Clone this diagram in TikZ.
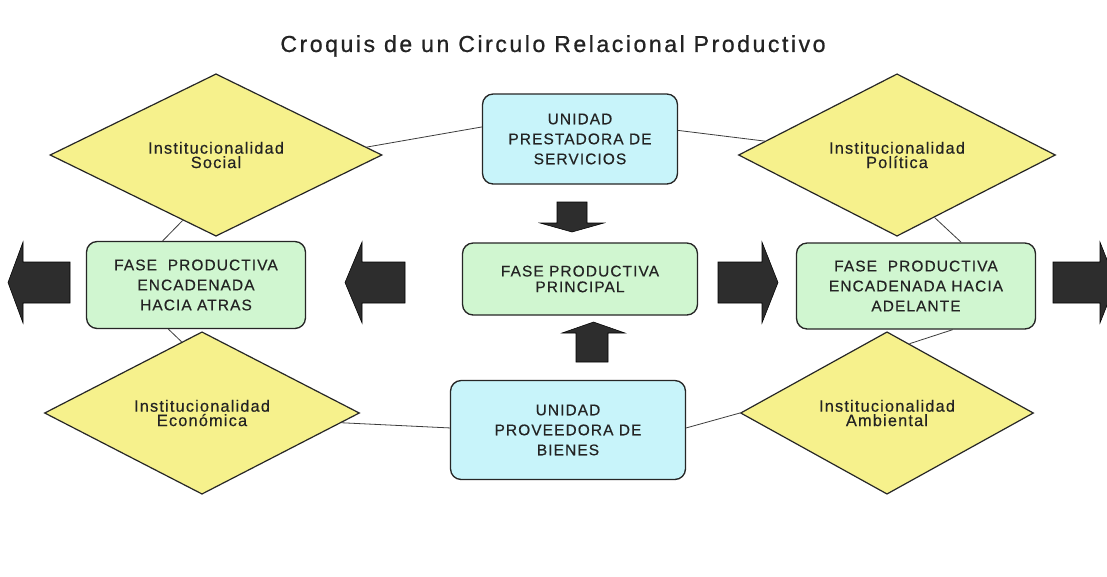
\documentclass[tikz,border=0pt]{standalone}
\usepackage{fontspec}
\setmainfont{Liberation Sans}
\newfontfamily\boxfont[LetterSpace=7,FakeBold=0.4]{Liberation Sans}
\newfontfamily\diafont[LetterSpace=7,FakeBold=0.4]{Liberation Sans}
\newfontfamily\titlefont[LetterSpace=11,FakeBold=0.8]{Liberation Sans}
\usetikzlibrary{shapes.geometric}
\definecolor{diayellow}{RGB}{246,241,140}
\definecolor{boxgreen}{RGB}{208,246,208}
\definecolor{boxcyan}{RGB}{200,244,250}
\definecolor{arrowdark}{RGB}{45,45,45}
\definecolor{linegray}{RGB}{60,60,60}
\definecolor{textdark}{RGB}{35,35,35}
\tikzset{
  diabox/.style={diamond, draw=black!85, line width=0.9pt, fill=diayellow, inner sep=0pt,
    align=center, text=textdark, font=\diafont\fontsize{12.3}{10.8}\selectfont},
  phasebox/.style={rectangle, rounded corners=8pt, draw=black!85, line width=1pt, fill=boxgreen,
    align=center, inner sep=0pt, text=textdark, font=\boxfont\fontsize{11.6}{15}\selectfont},
  unitbox/.style={phasebox, fill=boxcyan},
  ring/.style={draw=linegray, line width=0.6pt},
  blockarrow/.style={fill=arrowdark, draw=black, line width=0.4pt},
}
\begin{document}
\begin{tikzpicture}[x=0.75pt,y=-0.75pt]
\useasboundingbox (0,0) rectangle (1107,576);
\clip (0,0) rectangle (1107,576);
\fill[white] (0,0) rectangle (1107,576);

% title
\node[font=\titlefont\fontsize{17.3}{20}\selectfont, text=textdark] (title) at (553,46)
  {Croquis de un Circulo Relacional Productivo};

% diamonds
\node[diabox, minimum width=249pt, minimum height=102pt] (social) at (216,155)
  {Institucionalidad\\Social};
\node[diabox, minimum width=237.75pt, minimum height=102pt] (politica) at (897,155)
  {Institucionalidad\\Política};
\node[diabox, minimum width=236.25pt, minimum height=105pt] (economica) at (202,413)
  {Institucionalidad\\Económica};
\node[diabox, minimum width=219.75pt, minimum height=105pt] (ambiental) at (887,413)
  {Institucionalidad\\Ambiental};

% boxes
\node[unitbox, minimum width=146.25pt, minimum height=67.5pt] (servicios) at (580,139)
  {UNIDAD\\PRESTADORA DE\\SERVICIOS};
\node[phasebox, minimum width=176.25pt, minimum height=54pt,
  font=\boxfont\fontsize{11.6}{11.8}\selectfont] (principal) at (580,279)
  {FASE PRODUCTIVA\\PRINCIPAL};
\node[phasebox, minimum width=164.25pt, minimum height=65.25pt] (atras) at (196,285)
  {FASE\ \ PRODUCTIVA\\ENCADENADA\\HACIA ATRAS};
\node[phasebox, minimum width=179.25pt, minimum height=64.5pt] (adelante) at (916,286)
  {FASE\ \ PRODUCTIVA\\ENCADENADA HACIA\\ADELANTE};
\node[unitbox, minimum width=176.25pt, minimum height=74.25pt] (bienes) at (568,430)
  {UNIDAD\\PROVEEDORA DE\\BIENES};

% ring connectors
\draw[ring] (social.3) -- (servicios.173);
\draw[ring] (servicios.5) -- (politica.174);
\draw[ring] (politica.-59) -- (adelante.44);
\draw[ring] (adelante.-50) -- (ambiental.72);
\draw[ring] (ambiental.180) -- (bienes.1);
\draw[ring] (bienes.179) -- (economica.-4);
\draw[ring] (economica.106) -- (atras.238);
\draw[ring] (atras.127) -- (social.243);

% block arrows
\draw[blockarrow] (8,282.5) -- (23,242) -- (23,262) -- (70,262) -- (70,303) -- (23,303) -- (23,323) -- cycle;
\draw[blockarrow] (345,282.5) -- (362,242) -- (362,262) -- (405,262) -- (405,303) -- (362,303) -- (362,323) -- cycle;
\draw[blockarrow] (778,282.5) -- (762,242) -- (762,262) -- (718,262) -- (718,303) -- (762,303) -- (762,323) -- cycle;
\draw[blockarrow] (1116,282.5) -- (1100,242) -- (1100,262) -- (1053,262) -- (1053,303) -- (1100,303) -- (1100,323) -- cycle;
\draw[blockarrow] (572,232) -- (540,223) -- (557,223) -- (557,202) -- (587,202) -- (587,223) -- (604,223) -- cycle;
\draw[blockarrow] (593.5,322) -- (562,333) -- (576,333) -- (576,362) -- (608,362) -- (608,333) -- (625,333) -- cycle;
\end{tikzpicture}
\end{document}
